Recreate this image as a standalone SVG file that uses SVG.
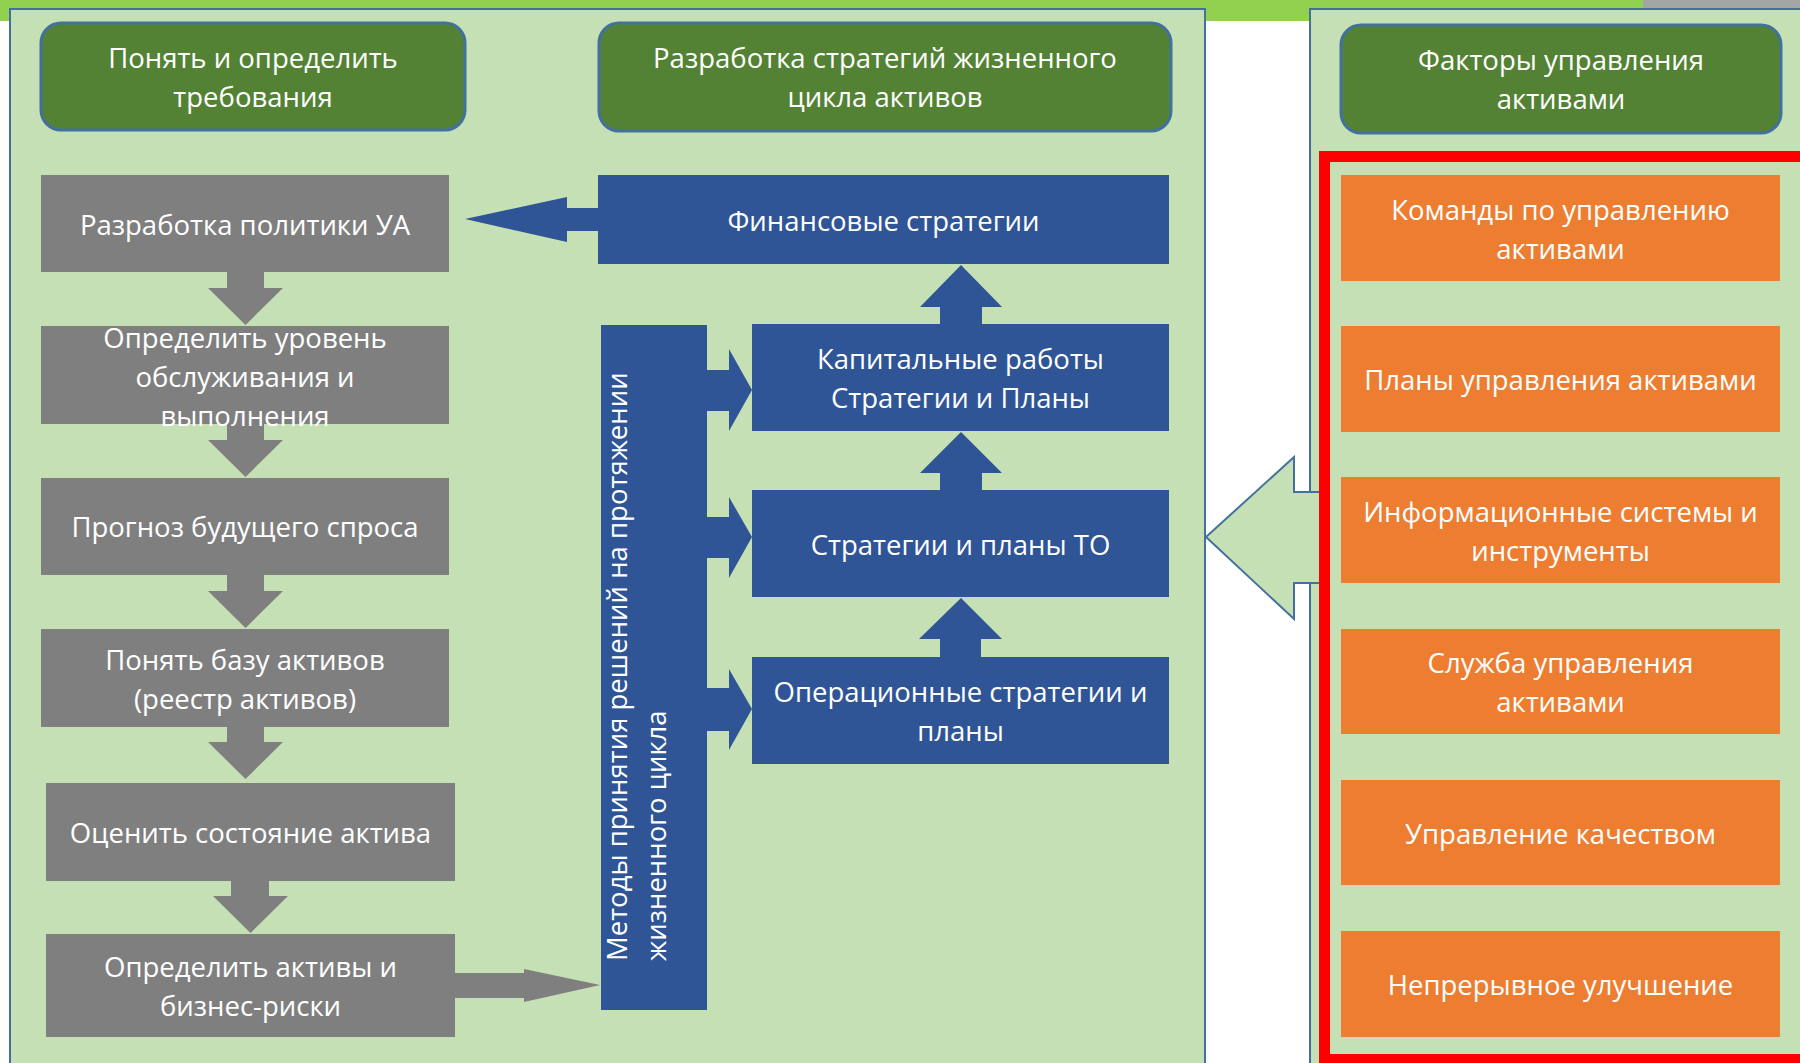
<svg xmlns="http://www.w3.org/2000/svg" width="1800" height="1063" viewBox="0 0 1800 1063">
<style>
.t{font-family:"Open Sans","Liberation Sans",sans-serif;font-size:27.5px;fill:#FFFFFF;text-anchor:middle}
.tv{font-family:"Open Sans","Liberation Sans",sans-serif;font-size:27.5px;fill:#FFFFFF;text-anchor:start}
.panel{fill:#C5E0B4;stroke:#41719C;stroke-width:2}
.hdr{fill:#548235;stroke:#41719C;stroke-width:3}
.gray{fill:#7F7F7F}
.blue{fill:#2F5597}
.orange{fill:#ED7D31}
.hollow{fill:#C5E0B4;stroke:#41719C;stroke-width:2;stroke-linejoin:miter}
</style>
<rect x="0" y="0" width="1800" height="1063" fill="#FFFFFF"/>
<rect x="0" y="0" width="1643" height="21" fill="#92D050"/>
<rect x="1643" y="0" width="157" height="8" fill="#A5A5A5"/>

<g id="panel-left"><rect class="panel" x="10" y="9" width="1195" height="1070"/></g>
<g id="panel-right"><rect class="panel" x="1310" y="9" width="510" height="1070"/></g>

<g id="connectors">
  <polygon class="gray" points="227,271 264,271 264,288 283,288 245.5,325 208,288 227,288"/>
  <polygon class="gray" points="227,423 264,423 264,440 283,440 245.5,477 208,440 227,440"/>
  <polygon class="gray" points="227,574 264,574 264,591 283,591 245.5,628 208,591 227,591"/>
  <polygon class="gray" points="227,726 264,726 264,742 283,742 245.5,779 208,742 227,742"/>
  <polygon class="gray" points="231,880 269,880 269,896 288,896 250.5,933 213,896 231,896"/>
  <polygon class="gray" points="454,973 524,973 524,969 600,985 524,1002 524,998 454,998"/>
  <polygon class="blue" points="599,208 567,208 567,197 465,219 567,242 567,231 599,231"/>
  <polygon class="blue" points="706,370 729,370 729,349 752,390 729,431 729,411 706,411"/>
  <polygon class="blue" points="706,517 729,517 729,497 752,537 729,578 729,558 706,558"/>
  <polygon class="blue" points="706,688 729,688 729,669 752,709 729,750 729,731 706,731"/>
  <polygon class="blue" points="940,325 940,307 920,307 961,265 1002,307 982,307 982,325"/>
  <polygon class="blue" points="940,491 940,473 920,473 961,432 1002,473 982,473 982,491"/>
  <polygon class="blue" points="940,657 940,639 919,639 961,598 1002,639 981,639 981,657"/>
  <polygon class="hollow" points="1206,537 1294,457 1294,492 1323,492 1323,583 1294,583 1294,619"/>
</g>

<g id="hdr-requirements">
  <rect class="hdr" x="41" y="23" width="424" height="107" rx="20"/>
  <text class="t" x="253" y="68">Понять и определить</text>
  <text class="t" x="253" y="107">требования</text>
</g>
<g id="hdr-strategies">
  <rect class="hdr" x="599" y="23" width="572" height="108" rx="20"/>
  <text class="t" x="885" y="68">Разработка стратегий жизненного</text>
  <text class="t" x="885" y="107">цикла активов</text>
</g>
<g id="hdr-factors">
  <rect class="hdr" x="1341" y="25" width="440" height="108" rx="20"/>
  <text class="t" x="1561" y="70">Факторы управления</text>
  <text class="t" x="1561" y="109">активами</text>
</g>

<g id="g1">
  <rect class="gray" x="41" y="175" width="408" height="97"/>
  <text class="t" x="245" y="235">Разработка политики УА</text>
</g>
<g id="g2">
  <rect class="gray" x="41" y="326" width="408" height="98"/>
  <text class="t" x="245" y="348">Определить уровень</text>
  <text class="t" x="245" y="387">обслуживания и</text>
  <text class="t" x="245" y="426">выполнения</text>
</g>
<g id="g3">
  <rect class="gray" x="41" y="478" width="408" height="97"/>
  <text class="t" x="245" y="537">Прогноз будущего спроса</text>
</g>
<g id="g4">
  <rect class="gray" x="41" y="629" width="408" height="98"/>
  <text class="t" x="245" y="670">Понять базу активов</text>
  <text class="t" x="245" y="709">(реестр активов)</text>
</g>
<g id="g5">
  <rect class="gray" x="46" y="783" width="409" height="98"/>
  <text class="t" x="250.5" y="843">Оценить состояние актива</text>
</g>
<g id="g6">
  <rect class="gray" x="46" y="934" width="409" height="103"/>
  <text class="t" x="250.5" y="977">Определить активы и</text>
  <text class="t" x="250.5" y="1016">бизнес-риски</text>
</g>

<g id="b-fin">
  <rect class="blue" x="598" y="175" width="571" height="89"/>
  <text class="t" x="883.5" y="231">Финансовые стратегии</text>
</g>
<g id="b-methods">
  <rect class="blue" x="601" y="325" width="106" height="685"/>
  <text class="tv" transform="translate(627,961) rotate(-90)" x="0" y="0">Методы принятия решений на протяжении</text>
  <text class="tv" transform="translate(666,961) rotate(-90)" x="0" y="0">жизненного цикла</text>
</g>
<g id="b-capital">
  <rect class="blue" x="752" y="324" width="417" height="107"/>
  <text class="t" x="960.5" y="369">Капитальные работы</text>
  <text class="t" x="960.5" y="408">Стратегии и Планы</text>
</g>
<g id="b-to">
  <rect class="blue" x="752" y="490" width="417" height="107"/>
  <text class="t" x="960.5" y="555">Стратегии и планы ТО</text>
</g>
<g id="b-ops">
  <rect class="blue" x="752" y="657" width="417" height="107"/>
  <text class="t" x="960.5" y="702">Операционные стратегии и</text>
  <text class="t" x="960.5" y="741">планы</text>
</g>

<g id="red-frame"><rect x="1324.5" y="156.5" width="481" height="903" fill="none" stroke="#FF0000" stroke-width="11"/></g>

<g id="o1">
  <rect class="orange" x="1341" y="175" width="439" height="106"/>
  <text class="t" x="1560.5" y="220">Команды по управлению</text>
  <text class="t" x="1560.5" y="259">активами</text>
</g>
<g id="o2">
  <rect class="orange" x="1341" y="326" width="439" height="106"/>
  <text class="t" x="1560.5" y="390">Планы управления активами</text>
</g>
<g id="o3">
  <rect class="orange" x="1341" y="477" width="439" height="106"/>
  <text class="t" x="1560.5" y="522">Информационные системы и</text>
  <text class="t" x="1560.5" y="561">инструменты</text>
</g>
<g id="o4">
  <rect class="orange" x="1341" y="629" width="439" height="105"/>
  <text class="t" x="1560.5" y="673">Служба управления</text>
  <text class="t" x="1560.5" y="712">активами</text>
</g>
<g id="o5">
  <rect class="orange" x="1341" y="780" width="439" height="105"/>
  <text class="t" x="1560.5" y="844">Управление качеством</text>
</g>
<g id="o6">
  <rect class="orange" x="1341" y="931" width="439" height="106"/>
  <text class="t" x="1560.5" y="995">Непрерывное улучшение</text>
</g>
</svg>
